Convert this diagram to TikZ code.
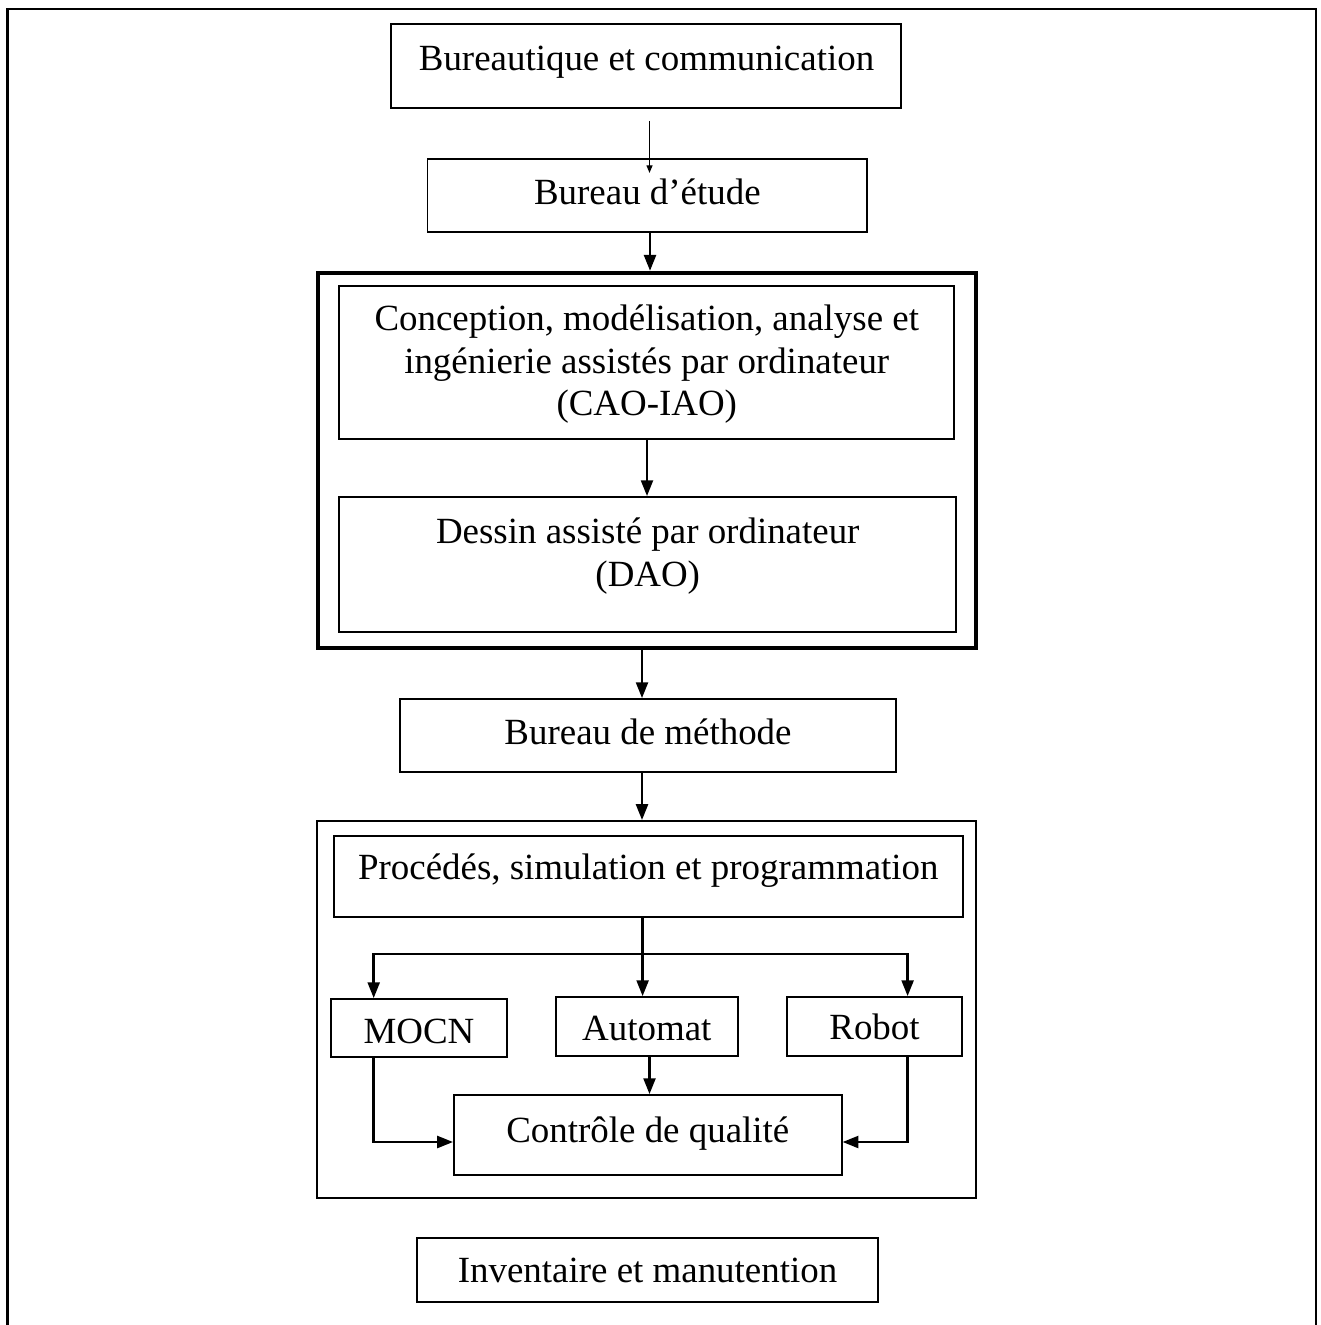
\documentclass[tikz,border=0pt]{standalone}
\usepackage{fontspec}
\setmainfont{Liberation Serif}
\usetikzlibrary{arrows.meta}
\begin{document}
\begin{tikzpicture}[x=0.01cm,y=-0.01cm,
  box/.style={draw, line width=0.5pt, rectangle, inner sep=0pt},
  txt/.style={inner sep=0pt, align=center, anchor=base, font=\fontsize{10.5}{12.1}\selectfont},
  arr/.style={line width=0.7pt, -{Triangle[length=4.5pt,width=3.4pt]}},
  thinarr/.style={line width=0.4pt, -{Triangle[length=2.2pt,width=1.7pt]}},
  link/.style={line width=0.7pt}]
\useasboundingbox (0,0) rectangle (1320,1325);
% outer frame (open at the bottom)
\draw[line width=0.65pt] (7.5,1330) -- (7.5,9.3) -- (1315.7,9.3) -- (1315.7,1330);

% boxes
\node[box, minimum width=5.095cm, minimum height=0.843cm] (b1) at (646.25,66.15) {};
\node[box, minimum width=4.393cm, minimum height=0.73cm] (b2) at (647.35,195.5) {};
\node[draw, line width=1.2pt, inner sep=0pt, minimum width=6.571cm, minimum height=3.75cm] (thick) at (647.05,460.5) {};
\node[box, minimum width=6.145cm, minimum height=1.533cm] (cao) at (646.75,362.35) {};
\node[box, minimum width=6.165cm, minimum height=1.35cm] (dao) at (647.75,564.5) {};
\node[box, minimum width=4.96cm, minimum height=0.73cm] (bm) at (648,735.5) {};
\node[box, minimum width=6.586cm, minimum height=3.77cm] (big) at (646.3,1009.5) {};
\node[box, minimum width=6.286cm, minimum height=0.81cm] (proc) at (648.3,876.5) {};
\node[box, minimum width=1.76cm, minimum height=0.58cm] (mocn) at (419,1028) {};
\node[box, minimum width=1.816cm, minimum height=0.59cm] (auto) at (646.8,1026.5) {};
\node[box, minimum width=1.75cm, minimum height=0.59cm] (robot) at (874.5,1026.5) {};
\node[box, minimum width=3.876cm, minimum height=0.80cm] (ctrl) at (647.8,1135) {};
\node[box, minimum width=4.61cm, minimum height=0.64cm] (inv) at (647.5,1270) {};

% texts (anchor=base: baseline of the last line)
\node[txt] (t1) at (646.5,71) {Bureautique et communication};
\node[txt] (t2) at (647.35,205) {Bureau d’étude};
\node[txt] (t3) at (646.75,416) {Conception, modélisation, analyse et\\ingénierie assistés par ordinateur\\(CAO-IAO)};
\node[txt] (t4) at (647.75,586) {Dessin assisté par ordinateur\\(DAO)};
\node[txt] (t5) at (648,744) {Bureau de méthode};
\node[txt] (t6) at (648.3,879) {Procédés, simulation et programmation};
\node[txt] (t7) at (419,1043) {MOCN};
\node[txt] (t8) at (646.8,1040) {Automat};
\node[txt] (t9) at (874.5,1039) {Robot};
\node[txt] (t10) at (647.8,1142) {Contrôle de qualité};
\node[txt] (t11) at (647.5,1282) {Inventaire et manutention};

% connectors
\coordinate (a1s) at (649.5,121);
\coordinate (a1e) at (649.5,173);
\draw[thinarr] (a1s) -- (a1e);
\draw[arr] (b2.south -| 650,0) -- (thick.north -| 650,0);
\draw[arr] (cao.south -| 647,0) -- (dao.north -| 647,0);
\draw[arr] (thick.south -| 642,0) -- (bm.north -| 642,0);
\draw[arr] (bm.south -| 642,0) -- (big.north -| 642,0);

\coordinate (split) at (642.6,954);
\draw[link] (proc.south -| split) -- (split);
\draw[arr] (split) -| (mocn.north -| 373.7,0);
\draw[arr] (split) -| (robot.north -| 907.6,0);
\draw[arr] (split) -- (auto.north -| split);
\draw[arr] (auto.south -| 649.5,0) -- (ctrl.north -| 649.5,0);
\draw[arr] (mocn.south -| 373.7,0) |- (ctrl.west |- 0,1142);
\draw[arr] (robot.south -| 907.6,0) |- (ctrl.east |- 0,1142);
\end{tikzpicture}
\end{document}
